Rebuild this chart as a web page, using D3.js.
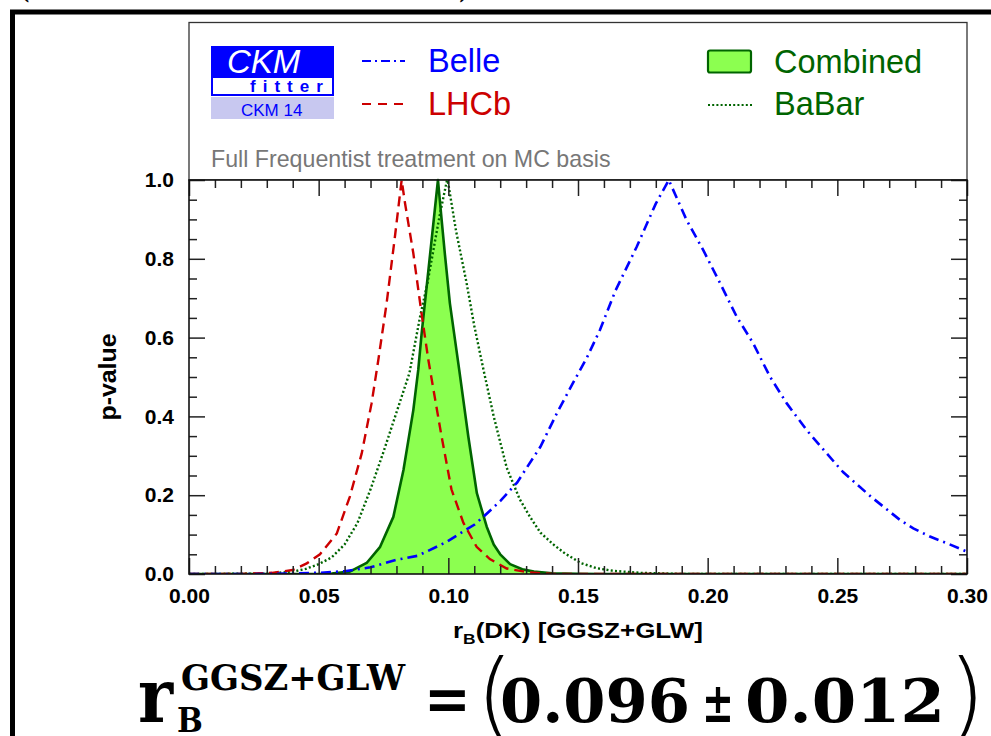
<!DOCTYPE html>
<html><head><meta charset="utf-8">
<script src="https://cdn.jsdelivr.net/npm/d3@7"></script>
<style>
html,body{margin:0;padding:0;background:#fff;overflow:hidden}
svg{display:block}
.sans{font-family:'Liberation Sans',Arial,Helvetica,sans-serif}
.serif{font-family:'DejaVu Serif Condensed','DejaVu Serif',serif;font-stretch:condensed}
</style></head>
<body>
<svg id="c" width="991" height="736"></svg>
<script>
// ---------------- data ----------------
const xTickValues = [0, 0.05, 0.10, 0.15, 0.20, 0.25, 0.30];
const yTickValues = [0, 0.2, 0.4, 0.6, 0.8, 1.0];

const belleX = [0, 0.03, 0.05, 0.06, 0.07, 0.08, 0.088, 0.092, 0.0995, 0.105, 0.110, 0.1135, 0.120, 0.1265, 0.1355, 0.142, 0.1485, 0.1535, 0.1585, 0.1645, 0.1726, 0.180, 0.185, 0.1919, 0.1983, 0.2048, 0.2112, 0.2176, 0.224, 0.2305, 0.2382, 0.2459, 0.2523, 0.2630, 0.2742, 0.2793, 0.2857, 0.2930, 0.2999, 0.30];
const belleP = [0, 0, 0.003, 0.007, 0.017, 0.036, 0.046, 0.058, 0.082, 0.105, 0.125, 0.145, 0.185, 0.232, 0.323, 0.41, 0.49, 0.55, 0.62, 0.72, 0.83, 0.94, 1.0, 0.898, 0.822, 0.738, 0.653, 0.585, 0.501, 0.433, 0.365, 0.306, 0.258, 0.196, 0.137, 0.116, 0.095, 0.076, 0.057, 0.055];

const lhcbX = [0, 0.020, 0.032, 0.040, 0.0454, 0.0505, 0.057, 0.062, 0.0666, 0.0704, 0.073, 0.0762, 0.0794, 0.082, 0.0833, 0.0865, 0.0897, 0.0923, 0.095, 0.0974, 0.1012, 0.1058, 0.1109, 0.116, 0.1225, 0.130, 0.140, 0.30];
const lhcbP = [0, 0, 0.003, 0.010, 0.027, 0.050, 0.103, 0.196, 0.306, 0.433, 0.543, 0.687, 0.856, 1.0, 0.941, 0.814, 0.660, 0.543, 0.44, 0.349, 0.215, 0.13, 0.069, 0.038, 0.014, 0.005, 0, 0];

const babarX = [0, 0.030, 0.040, 0.045, 0.050, 0.055, 0.060, 0.065, 0.070, 0.075, 0.080, 0.085, 0.0891, 0.092, 0.095, 0.0968, 0.0995, 0.100, 0.103, 0.107, 0.110, 0.1135, 0.1175, 0.1225, 0.1275, 0.1315, 0.1355, 0.1405, 0.145, 0.151, 0.157, 0.1636, 0.174, 0.19, 0.30];
const babarP = [0, 0.001, 0.006, 0.013, 0.025, 0.042, 0.075, 0.13, 0.215, 0.31, 0.41, 0.51, 0.653, 0.74, 0.85, 0.915, 1.0, 0.99, 0.87, 0.74, 0.63, 0.52, 0.40, 0.27, 0.19, 0.145, 0.105, 0.075, 0.052, 0.028, 0.015, 0.008, 0.003, 0, 0];

const combX = [0, 0.050, 0.055, 0.062, 0.0685, 0.0737, 0.0788, 0.0827, 0.0865, 0.0884, 0.0897, 0.0923, 0.096, 0.0974, 0.0987, 0.1006, 0.1042, 0.1077, 0.111, 0.1148, 0.1175, 0.120, 0.1238, 0.1285, 0.133, 0.140, 0.150, 0.160, 0.30];
const combP = [0, 0, 0.001, 0.006, 0.028, 0.069, 0.145, 0.264, 0.416, 0.518, 0.61, 0.77, 1.0, 0.90, 0.81, 0.687, 0.518, 0.349, 0.205, 0.12, 0.075, 0.05, 0.025, 0.012, 0.006, 0.002, 0.0005, 0, 0];

const legendNames = ["Belle", "LHCb", "Combined", "BaBar"];
const xTitle = ["r", "B", "(DK) [GGSZ+GLW]"];
const yTitle = "p-value";
const noteText = "Full Frequentist treatment on MC basis";
const resultText = ["r", "GGSZ+GLW", "B", "=", "(", "0.096", "\u00b1", "0.012", ")"];

// ---------------- layout ----------------
const svg = d3.select("#c");
const L = 189, R = 967, T = 180, B = 574;
const x = d3.scaleLinear().domain([0, 0.30]).range([L, R]);
const y = d3.scaleLinear().domain([0, 1]).range([B, T]);

const BLUE = "#0000ff", RED = "#cc0000", DGREEN = "#006400", LGREEN = "#8cff50";

// outer thick frame
svg.append("rect").attr("x", 12.5).attr("y", 12).attr("width", 1100).attr("height", 900)
  .attr("fill", "none").attr("stroke", "#000").attr("stroke-width", 5);

// cut-off parentheses at very top
svg.append("text").attr("class", "serif").attr("x", 18).attr("y", -3.5).attr("font-size", 36).text("(");
svg.append("text").attr("class", "serif").attr("x", 458).attr("y", -3.5).attr("font-size", 36).text(")");

// legend box
svg.append("rect").attr("x", L).attr("y", 22.5).attr("width", R - L).attr("height", T - 22.5)
  .attr("fill", "#fff").attr("stroke", "#333").attr("stroke-width", 1.3);

// CKMfitter logo
const logo = svg.append("g");
logo.append("rect").attr("x", 211).attr("y", 46).attr("width", 123).attr("height", 31).attr("fill", BLUE);
logo.append("rect").attr("x", 212).attr("y", 77).attr("width", 121).attr("height", 18)
  .attr("fill", "#fff").attr("stroke", BLUE).attr("stroke-width", 2);
logo.append("rect").attr("x", 211).attr("y", 97).attr("width", 123).attr("height", 22).attr("fill", "#c8c8f0");
logo.append("text").attr("class", "sans").attr("x", 227).attr("y", 72.5).attr("font-size", 33)
  .attr("font-style", "italic").attr("fill", "#fff").text("CKM");
logo.append("text").attr("class", "sans").attr("x", 250).attr("y", 92).attr("font-size", 17)
  .attr("font-weight", "bold").attr("letter-spacing", 7).attr("fill", BLUE).text("fitter");
logo.append("text").attr("class", "sans").attr("x", 241).attr("y", 116).attr("font-size", 17)
  .attr("fill", BLUE).text("CKM 14");

// legend entries
const leg = svg.append("g").attr("class", "sans");
leg.append("line").attr("x1", 362).attr("x2", 405).attr("y1", 61).attr("y2", 61)
  .attr("stroke", BLUE).attr("stroke-width", 2.2).attr("stroke-dasharray", "9,4,2,4");
leg.append("text").attr("x", 428).attr("y", 72).attr("font-size", 32.5).attr("fill", BLUE).text(legendNames[0]);
leg.append("line").attr("x1", 362).attr("x2", 405).attr("y1", 104).attr("y2", 104)
  .attr("stroke", RED).attr("stroke-width", 2.2).attr("stroke-dasharray", "9,7");
leg.append("text").attr("x", 428).attr("y", 115).attr("font-size", 32.5).attr("fill", RED).text(legendNames[1]);
leg.append("rect").attr("x", 708).attr("y", 50.5).attr("width", 43).attr("height", 22).attr("rx", 2)
  .attr("fill", LGREEN).attr("stroke", DGREEN).attr("stroke-width", 2.2);
leg.append("text").attr("x", 774).attr("y", 73).attr("font-size", 32.5).attr("fill", DGREEN).text(legendNames[2]);
leg.append("line").attr("x1", 708).attr("x2", 752).attr("y1", 105).attr("y2", 105)
  .attr("stroke", DGREEN).attr("stroke-width", 2).attr("stroke-dasharray", "2,2.2");
leg.append("text").attr("x", 774).attr("y", 115).attr("font-size", 32.5).attr("fill", DGREEN).text(legendNames[3]);
leg.append("text").attr("x", 211).attr("y", 166.5).attr("font-size", 23.2).attr("fill", "#777").text(noteText);

// plot background
svg.append("rect").attr("x", L).attr("y", T).attr("width", R - L).attr("height", B - T).attr("fill", "#fff");

// clip
svg.append("clipPath").attr("id", "clip").append("rect")
  .attr("x", L).attr("y", T - 2).attr("width", R - L).attr("height", B - T + 2);
const plot = svg.append("g").attr("clip-path", "url(#clip)");

const zipd = (xs, ps) => xs.map((v, i) => [v, ps[i]]);
const line = d3.line().x(d => x(d[0])).y(d => y(d[1]));
const area = d3.area().x(d => x(d[0])).y0(y(0)).y1(d => y(d[1]));

plot.append("path").datum(zipd(combX, combP)).attr("d", area).attr("fill", LGREEN);
plot.append("path").datum(zipd(combX, combP)).attr("d", line).attr("fill", "none")
  .attr("stroke", DGREEN).attr("stroke-width", 2.6).attr("stroke-linejoin", "round");
plot.append("path").datum(zipd(babarX, babarP)).attr("d", line).attr("fill", "none")
  .attr("stroke", DGREEN).attr("stroke-width", 2.4).attr("stroke-dasharray", "2,2.3");
plot.append("path").datum(zipd(lhcbX, lhcbP)).attr("d", line).attr("fill", "none")
  .attr("stroke", RED).attr("stroke-width", 2.4).attr("stroke-dasharray", "10,6");
plot.append("path").datum(zipd(belleX, belleP)).attr("d", line).attr("fill", "none")
  .attr("stroke", BLUE).attr("stroke-width", 2.6).attr("stroke-dasharray", "10,5,2,5");

// axes
const minorX = d3.range(0, 0.3001, 0.01).filter(v => Math.abs(v * 20 - Math.round(v * 20)) > 1e-6);
const minorY = d3.range(0, 1.0001, 0.05).filter(v => Math.abs(v * 5 - Math.round(v * 5)) > 1e-6);
const tickStroke = "#222";

function styleAxis(g) {
  g.select(".domain").remove();
  g.selectAll(".tick line").attr("stroke", tickStroke).attr("stroke-width", 1.5);
  g.selectAll(".tick text").attr("class", "sans").attr("font-weight", "bold")
    .attr("font-size", 21).attr("fill", "#000");
}
svg.append("g").attr("transform", `translate(0,${B})`)
  .call(d3.axisBottom(x).tickValues(xTickValues).tickSize(-16).tickPadding(14).tickFormat(d3.format(".2f")))
  .call(styleAxis);
svg.append("g").attr("transform", `translate(0,${B})`)
  .call(d3.axisBottom(x).tickValues(minorX).tickSize(-8).tickFormat("")).call(styleAxis);
svg.append("g").attr("transform", `translate(0,${T})`)
  .call(d3.axisTop(x).tickValues(xTickValues).tickSize(-16).tickFormat("")).call(styleAxis);
svg.append("g").attr("transform", `translate(0,${T})`)
  .call(d3.axisTop(x).tickValues(minorX).tickSize(-8).tickFormat("")).call(styleAxis);
svg.append("g").attr("transform", `translate(${L},0)`)
  .call(d3.axisLeft(y).tickValues(yTickValues).tickSize(-16).tickPadding(15).tickFormat(d3.format(".1f")))
  .call(styleAxis);
svg.append("g").attr("transform", `translate(${L},0)`)
  .call(d3.axisLeft(y).tickValues(minorY).tickSize(-8).tickFormat("")).call(styleAxis);
svg.append("g").attr("transform", `translate(${R},0)`)
  .call(d3.axisRight(y).tickValues(yTickValues).tickSize(-16).tickFormat("")).call(styleAxis);
svg.append("g").attr("transform", `translate(${R},0)`)
  .call(d3.axisRight(y).tickValues(minorY).tickSize(-8).tickFormat("")).call(styleAxis);

// frame
svg.append("rect").attr("x", L).attr("y", T).attr("width", R - L).attr("height", B - T)
  .attr("fill", "none").attr("stroke", "#111").attr("stroke-width", 1.6);

// axis titles
const xt = svg.append("text").attr("class", "sans").attr("font-weight", "bold").attr("font-size", 22.5)
  .attr("x", 453).attr("y", 638).attr("textLength", 250).attr("lengthAdjust", "spacingAndGlyphs");
xt.append("tspan").text(xTitle[0]);
xt.append("tspan").attr("font-size", 15).attr("dy", 6).text(xTitle[1]);
xt.append("tspan").attr("dy", -6).text(xTitle[2]);

svg.append("text").attr("class", "sans").attr("font-weight", "bold").attr("font-size", 23)
  .attr("text-anchor", "middle").attr("textLength", 87).attr("lengthAdjust", "spacingAndGlyphs")
  .attr("transform", "translate(116,377) rotate(-90)").text(yTitle);

// result formula
const f = svg.append("g").attr("class", "serif").attr("font-weight", "bold");
f.append("text").attr("x", 138).attr("y", 722).attr("font-size", 74).text(resultText[0]);
f.append("text").attr("x", 181).attr("y", 690).attr("font-size", 35)
  .attr("textLength", 224).attr("lengthAdjust", "spacingAndGlyphs").text(resultText[1]);
f.append("text").attr("x", 177).attr("y", 732).attr("font-size", 34).text(resultText[2]);
f.append("text").attr("x", 424).attr("y", 720).attr("font-size", 62).text(resultText[3]);
f.append("text").attr("x", 476).attr("y", 728).attr("font-size", 96).attr("font-weight", 200)
  .style("font-family", "'DejaVu Sans','DejaVu Serif',serif").text(resultText[4]);
f.append("text").attr("x", 500).attr("y", 722).attr("font-size", 60)
  .attr("textLength", 190).attr("lengthAdjust", "spacingAndGlyphs").text(resultText[5]);
f.append("text").attr("x", 702).attr("y", 722).attr("font-size", 56)
  .attr("textLength", 32).attr("lengthAdjust", "spacingAndGlyphs").text(resultText[6]);
f.append("text").attr("x", 745).attr("y", 722).attr("font-size", 60)
  .attr("textLength", 200).attr("lengthAdjust", "spacingAndGlyphs").text(resultText[7]);
f.append("text").attr("x", 948).attr("y", 728).attr("font-size", 96).attr("font-weight", 200)
  .style("font-family", "'DejaVu Sans','DejaVu Serif',serif").text(resultText[8]);
</script>
</body></html>
